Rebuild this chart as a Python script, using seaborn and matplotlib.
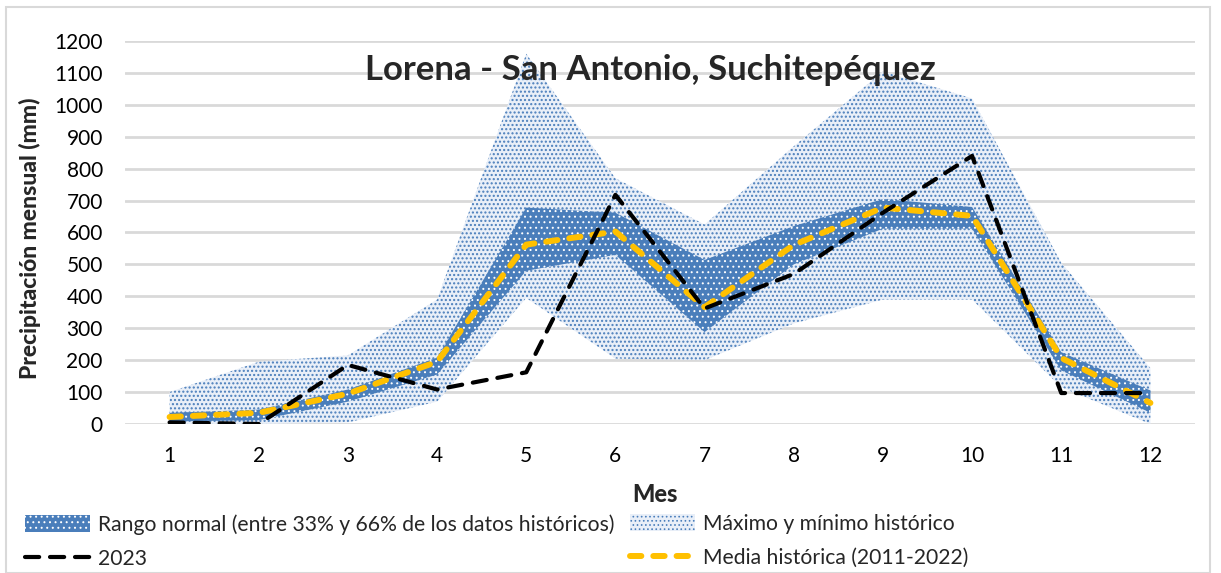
import numpy as np
import pandas as pd
import matplotlib
matplotlib.use("Agg")
import matplotlib.pyplot as plt
import seaborn as sns
from matplotlib.patches import Patch, Rectangle
from matplotlib.lines import Line2D

# Datos mensuales (mm)
meses = list(range(1, 13))
maximo_hist = [100, 195, 215, 390, 1160, 770, 625, 870, 1105, 1020, 505, 175]
minimo_hist = [0, 0, 5, 70, 395, 205, 200, 315, 390, 390, 115, 0]
rango_sup = [35, 45, 108, 208, 678, 662, 514, 620, 705, 680, 225, 105]
rango_inf = [8, 12, 70, 155, 480, 530, 288, 500, 612, 612, 168, 35]
media_hist = [22, 35, 95, 195, 562, 603, 366, 561, 678, 652, 207, 66]
lluvia_2023 = [5, 0, 185, 108, 162, 718, 362, 470, 662, 840, 97, 97]

titulo = "Lorena - San Antonio, Suchitepéquez"
lbl_rango = "Rango normal (entre 33% y 66% de los datos históricos)"
lbl_maxmin = "Máximo y mínimo histórico"
lbl_2023 = "2023"
lbl_media = "Media histórica (2011-2022)"

df = pd.DataFrame({"mes": meses, "media": media_hist, "y2023": lluvia_2023})

sns.set_style("white")
plt.rcParams["font.family"] = ["Lato", "DejaVu Sans"]

AZUL = "#4a7ebb"
AMARILLO = "#ffc000"
GRIS = "#d9d9d9"
FONDO_MAXMIN = "#e9eff8"

fig = plt.figure(figsize=(12.21, 5.73), dpi=100)
ax = fig.add_axes([125 / 1221, 1 - 424 / 573, 1070 / 1221, 383 / 573])

# banda max/min (puntos azules sobre blanco)
plt.rcParams["hatch.linewidth"] = 1.0
ax.fill_between(meses, minimo_hist, maximo_hist, facecolor=FONDO_MAXMIN,
                edgecolor=AZUL, hatch="....", linewidth=0, zorder=2)
h_maxmin = Patch(facecolor=FONDO_MAXMIN, edgecolor=AZUL, hatch="....", linewidth=0)
# rango normal (puntos blancos sobre azul)
plt.rcParams["hatch.linewidth"] = 0.7
ax.fill_between(meses, rango_inf, rango_sup, facecolor=AZUL,
                edgecolor="white", hatch="...", linewidth=0, zorder=3)
h_rango = Patch(facecolor=AZUL, edgecolor="white", hatch="...", linewidth=0)

sns.lineplot(data=df, x="mes", y="media", ax=ax, color=AMARILLO, lw=4.3,
             linestyle=(0, (1.9, 2.0)), dash_capstyle="round", zorder=4)
sns.lineplot(data=df, x="mes", y="y2023", ax=ax, color="black", lw=3.0,
             linestyle=(0, (3.4, 2.6)), dash_capstyle="round", zorder=5)

ax.set_xlim(0.5, 12.5)
ax.set_ylim(0, 1200)
ax.set_xticks(meses)
ax.set_yticks(range(0, 1201, 100))
ax.yaxis.grid(True, color=GRIS, lw=2)
ax.set_axisbelow(True)
for s in ax.spines.values():
    s.set_visible(False)
ax.tick_params(axis="both", length=0, labelsize=15, colors="black")
ax.tick_params(axis="y", pad=16)
ax.tick_params(axis="x", pad=16)
ax.set_xlabel("")
ax.set_ylabel("")

fig.text(30 / 1221, 1 - 238 / 573, "Precipitación mensual (mm)", rotation=90,
         ha="center", va="center", fontsize=16.5, fontweight="black")
fig.text(655 / 1221, 1 - 494 / 573, "Mes", ha="center", va="center",
         fontsize=17, fontweight="black")
fig.text(650 / 1221, 1 - 70 / 573, titulo, ha="center", va="center",
         fontsize=25, fontweight="bold")

h_2023 = Line2D([], [], color="black", lw=3.0, linestyle=(0, (3.4, 2.6)),
                dash_capstyle="round")
h_media = Line2D([], [], color=AMARILLO, lw=4.3, linestyle=(0, (1.9, 2.0)),
                 dash_capstyle="round")

ley_kw = dict(frameon=False, fontsize=15.2, handlelength=3.1, handleheight=0.85,
              handletextpad=0.35, labelspacing=0.68, borderpad=0, borderaxespad=0)
fig.legend([h_rango, h_2023], [lbl_rango, lbl_2023], loc="upper left",
           bbox_to_anchor=(25 / 1221, 1 - 514 / 573), **ley_kw)
fig.legend([h_maxmin, h_media], [lbl_maxmin, lbl_media], loc="upper left",
           bbox_to_anchor=(630 / 1221, 1 - 514 / 573), **ley_kw)

fig.patches.append(Rectangle((6 / 1221, 0), 1204 / 1221, 1 - 7 / 573,
                             transform=fig.transFigure, fill=False,
                             edgecolor=GRIS, lw=1.5))

fig.savefig("out.png", dpi=100)
